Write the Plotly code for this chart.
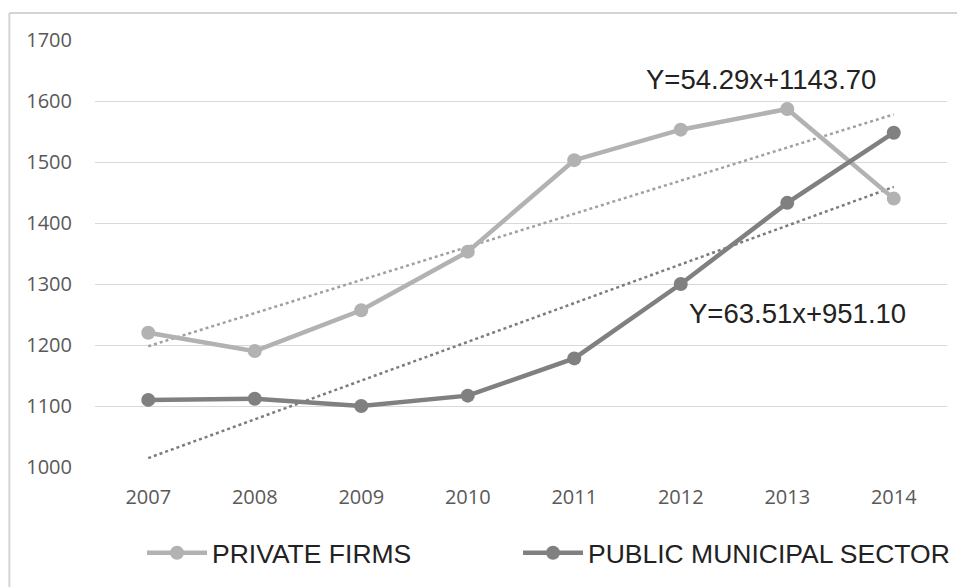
import plotly.graph_objects as go

years = [2007, 2008, 2009, 2010, 2011, 2012, 2013, 2014]
private_firms = [1220, 1190, 1257, 1353, 1503, 1553, 1587, 1440]
public_sector = [1110, 1112, 1100, 1117, 1178, 1300, 1433, 1548]
y_ticks = [1000, 1100, 1200, 1300, 1400, 1500, 1600, 1700]

# trend equations shown on the chart (x = 1..8)
private_slope, private_intercept = 54.29, 1143.70
public_slope, public_intercept = 63.51, 951.10

xi = list(range(1, len(years) + 1))
private_trend = [private_slope * x + private_intercept for x in xi]
public_trend = [public_slope * x + public_intercept for x in xi]

C_PRIV = "#b2b2b2"
C_PUB = "#808080"

fig = go.Figure()
fig.add_trace(go.Scatter(x=years, y=private_trend, mode="lines",
                         line=dict(color="#a0a0a0", width=2.5, dash="dot"),
                         showlegend=False, hoverinfo="skip"))
fig.add_trace(go.Scatter(x=years, y=public_trend, mode="lines",
                         line=dict(color="#7c7c7c", width=2.5, dash="dot"),
                         showlegend=False, hoverinfo="skip"))
fig.add_trace(go.Scatter(x=years, y=private_firms, mode="lines+markers",
                         name="PRIVATE FIRMS", legend="legend",
                         line=dict(color=C_PRIV, width=4.5),
                         marker=dict(color=C_PRIV, size=14)))
fig.add_trace(go.Scatter(x=years, y=public_sector, mode="lines+markers",
                         name="PUBLIC MUNICIPAL SECTOR", legend="legend2",
                         line=dict(color=C_PUB, width=4.5),
                         marker=dict(color=C_PUB, size=14)))

narrow = "Liberation Sans Narrow, Arial Narrow, Liberation Sans, sans-serif"

fig.add_annotation(x=2012.75, y=1636, text=f"Y={private_slope:.2f}x+{private_intercept:.2f}",
                   showarrow=False, font=dict(family=narrow, size=27.5, color="#222222"))
fig.add_annotation(x=2013.1, y=1251, text=f"Y={public_slope:.2f}x+{public_intercept:.2f}",
                   showarrow=False, font=dict(family=narrow, size=27.5, color="#222222"))

# outer frame edges
fig.add_shape(type="line", xref="paper", yref="paper", x0=-0.1005, x1=1.05, y0=1.0632, y1=1.0632,
              line=dict(color="#d4d4d4", width=2))
fig.add_shape(type="line", xref="paper", yref="paper", x0=-0.1005, x1=-0.1005, y0=1.0632, y1=-0.4,
              line=dict(color="#d4d4d4", width=2))

legend_common = dict(orientation="h", xanchor="left", y=-0.2014, yanchor="middle",
                     font=dict(family=narrow, size=26.5, color="#222222"),
                     itemwidth=60, bgcolor="rgba(0,0,0,0)")

fig.update_layout(
    width=965, height=587,
    margin=dict(l=87, r=26, t=32, b=128, autoexpand=False),
    paper_bgcolor="white", plot_bgcolor="white",
    font=dict(family="Open Sans, sans-serif", color="#595959", size=20),
    xaxis=dict(range=[2006.5, 2014.5], tickvals=years, ticktext=[str(y) for y in years],
               showgrid=False, zeroline=False, showline=False, ticks="",
               ticklabelstandoff=16, tickfont=dict(size=20, color="#595959")),
    yaxis=dict(range=[1000, 1700], tickvals=y_ticks, showgrid=True, gridcolor="#d9d9d9",
               gridwidth=1.3, zeroline=False, showline=False, ticks="",
               ticklabelstandoff=22, tickfont=dict(size=20, color="#595959")),
    legend=dict(x=0.0552, **legend_common),
    legend2=dict(x=0.4965, **legend_common),
    showlegend=True,
)

fig.write_html("out.html")
